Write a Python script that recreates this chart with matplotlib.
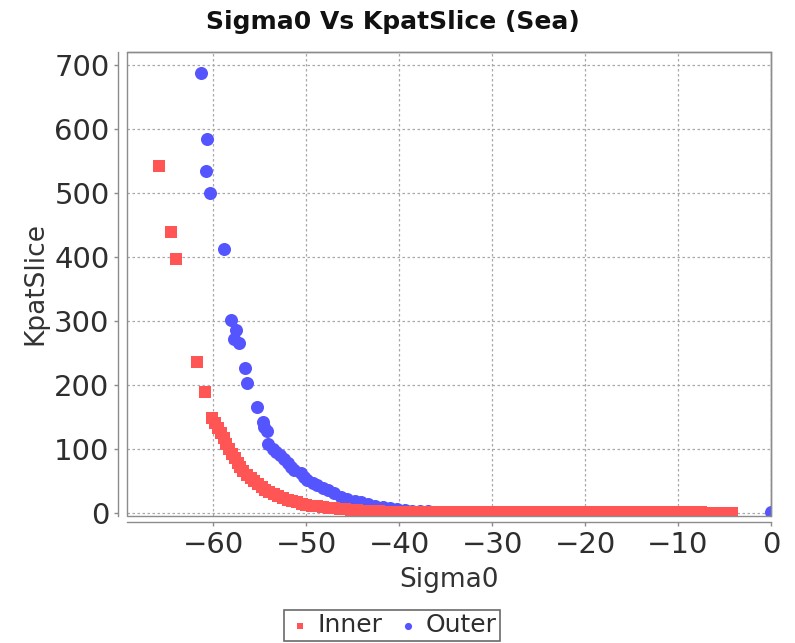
import matplotlib
matplotlib.use('Agg')
import matplotlib.pyplot as plt
from matplotlib.patches import Rectangle

# Inner series (red squares)
inner_sigma0 = [-65.9, -64.6, -64.0, -61.8, -60.9,
                -60.1, -59.8, -59.5, -59.2, -58.9, -58.6, -58.3, -58.0, -57.7, -57.4,
                -57.1, -56.8, -56.4, -56.0, -55.6, -55.2, -54.8, -54.4, -54.0, -53.5,
                -53.0, -52.5, -52.0, -51.5, -51.0, -50.5, -50.0, -49.4, -48.8, -48.2,
                -47.6, -47.0, -46.4, -45.8, -45.2, -44.5, -43.8, -43.0, -42.2, -41.4,
                -40.6, -39.8, -39.0, -38.1, -37.2, -36.3, -35.4, -34.5, -33.6, -32.7,
                -31.8, -30.9, -30.0, -29.1, -28.2, -27.3, -26.4, -25.5, -24.6, -23.7,
                -22.8, -21.9, -21.0, -20.1, -19.2, -18.3, -17.4, -16.5, -15.6, -14.7,
                -13.8, -12.9, -12.0, -11.1, -10.2, -9.3, -8.4, -7.5, -6.6, -5.7,
                -4.9, -4.2]
inner_kpat = [542, 439, 396, 235, 189,
              148, 141, 133, 124, 116, 108, 100, 92, 85, 77,
              71, 65, 59, 54, 49, 45, 40, 36, 33, 29,
              26, 23, 20, 18, 16, 14, 12, 11, 10, 9,
              8, 7, 6, 5, 4.5, 4, 3.2, 2.6, 2.2, 1.8,
              1.5, 1.3, 1.1, 1.0, 0.9, 0.8, 0.8, 0.7, 0.7, 0.7,
              0.6, 0.6, 0.6, 0.6, 0.5, 0.5, 0.5, 0.5, 0.5, 0.4,
              0.4, 0.4, 0.4, 0.4, 0.4, 0.4, 0.3, 0.3, 0.3, 0.3,
              0.3, 0.3, 0.3, 0.3, 0.3, 0.3, 0.3, 0.3, 0.2, 0.2,
              0.2, 0.2]

# Outer series (blue circles)
outer_sigma0 = [-61.3, -60.7, -60.8, -60.4, -58.9, -58.1, -57.6, -57.8, -57.2, -56.6,
                -56.4, -55.3, -54.7, -54.6, -54.2, -54.1, -53.6, -53.3, -52.8, -52.4,
                -52.0, -51.6, -51.3, -50.6, -50.2, -49.9, -49.3, -48.8, -48.2, -47.7,
                -47.0, -46.3, -45.6, -44.8, -44.1, -43.4, -42.6, -41.8, -41.0, -40.2,
                -39.4, -38.6, -37.8, -36.9,
                -22.2, -21.4, -20.6, -19.8, -19.0, -18.2, 0.0]
outer_kpat = [687, 585, 535, 500, 412, 301, 285, 272, 265, 226,
              203, 166, 142, 134, 127, 108, 100, 95, 90, 84,
              77, 72, 67, 62, 56, 51, 47, 43, 39, 35,
              30, 25, 22, 19, 16, 14, 11, 9, 7, 5,
              4, 3, 2.5, 2,
              1.2, 1.2, 1.2, 1.2, 1.2, 1.2, 0.8]

x_ticks = [-60, -50, -40, -30, -20, -10, 0]
y_ticks = [0, 100, 200, 300, 400, 500, 600, 700]

red = '#FF5555'
blue = '#5555FF'
gray = '#8c8c8c'

fig = plt.figure(figsize=(7.95, 6.43), dpi=100)
ax = fig.add_axes([0.1597, 0.1975, 0.8101, 0.7221])

# JFreeChart draws series 0 on top
ax.scatter(outer_sigma0, outer_kpat, s=88, marker='o', color=blue, linewidths=0, zorder=3, label='Outer')
ax.scatter(inner_sigma0, inner_kpat, s=74, marker='s', color=red, linewidths=0, zorder=4, label='Inner')

ax.set_xlim(-69.3, 0)
ax.set_ylim(-5.2, 720.8)
ax.set_xticks(x_ticks)
ax.set_yticks(y_ticks)
ax.grid(True, color='#a8a8a8', linestyle=(0, (2, 2)), linewidth=0.9)
ax.set_axisbelow(True)

for side in ['top', 'right', 'left', 'bottom']:
    ax.spines[side].set_color(gray)
    ax.spines[side].set_linewidth(1.0)
ax.spines['left'].set_position(('outward', 6.5))
ax.spines['bottom'].set_position(('outward', 4.5))
ax.add_patch(Rectangle((0, 0), 1, 1, transform=ax.transAxes, fill=False,
                       edgecolor=gray, linewidth=1.0, clip_on=False, zorder=5))

ax.tick_params(direction='out', length=3, width=1, color=gray,
               labelsize=21, labelcolor='#2e2e2e', pad=3)

ax.set_xlabel('Sigma0', fontsize=19, color='#333333', labelpad=6)
ax.set_ylabel('KpatSlice', fontsize=19, color='#333333', labelpad=4)
fig.text(0.494, 0.966, 'Sigma0 Vs KpatSlice (Sea)', ha='center', va='center',
         fontsize=18, fontweight='bold', color='#111111')

handles, labels = ax.get_legend_handles_labels()
leg = fig.legend([handles[1], handles[0]], ['Inner', 'Outer'], loc='upper center',
                 bbox_to_anchor=(0.493, 1 - 597 / 643), ncol=2, fontsize=18,
                 frameon=True, fancybox=False, edgecolor='#444444',
                 handletextpad=0.2, columnspacing=0.5, markerscale=0.55,
                 borderpad=0.15, handlelength=1.0, labelcolor='#2e2e2e')
leg.get_frame().set_linewidth(1.2)

fig.savefig('out.png', dpi=100)
